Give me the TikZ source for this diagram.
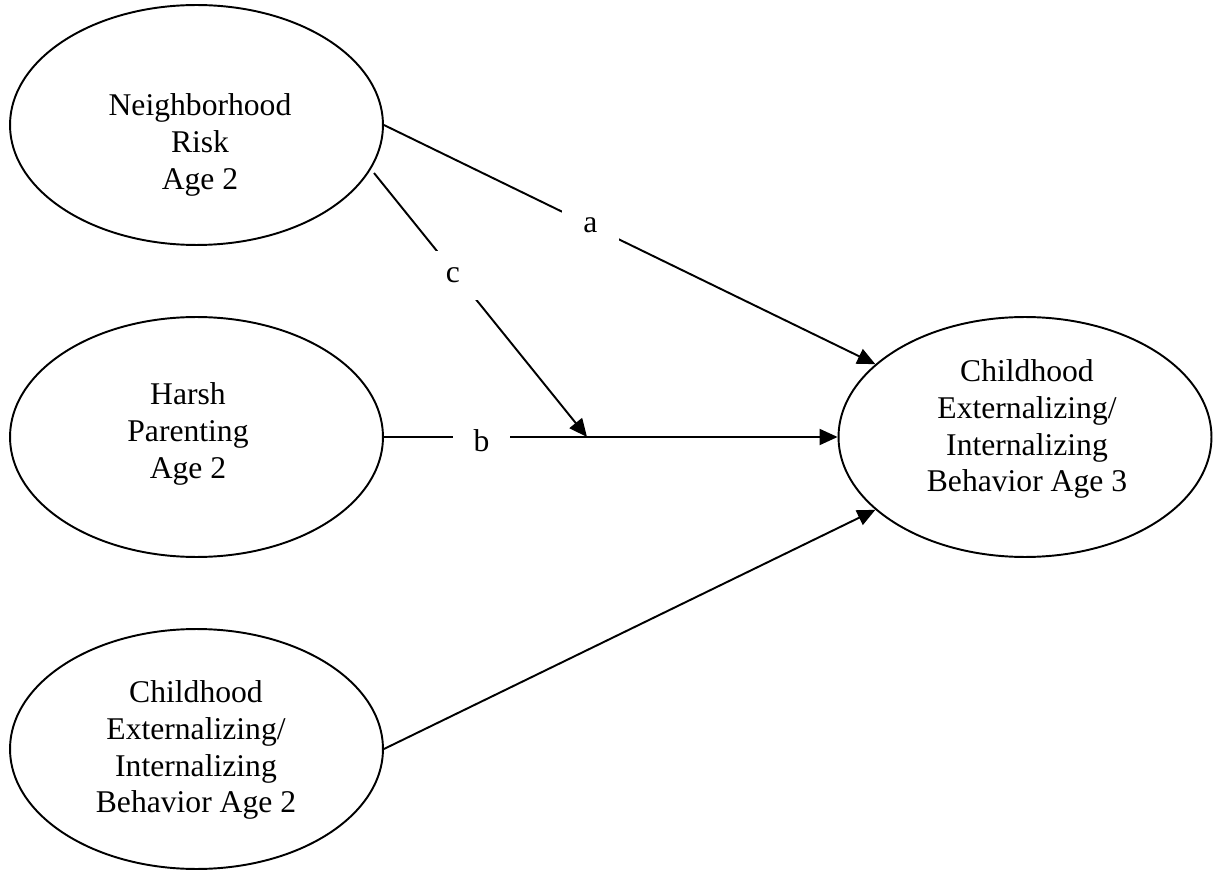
\documentclass[tikz,border=0pt]{standalone}
\usepackage{fontspec}
\setmainfont{Liberation Serif}
\usetikzlibrary{shapes.geometric,arrows.meta}

\begin{document}
\begin{tikzpicture}[x=0.02cm,y=-0.02cm,line width=1.1pt,
  latent/.style={draw,ellipse,minimum width=7.46cm,minimum height=4.8cm,inner sep=0pt},
  txt/.style={align=center,font=\fontsize{18}{21}\selectfont},
  effect/.style={-{Triangle[length=0.36cm,width=0.32cm]}},
  gap/.style={fill=white,minimum width=1.15cm,minimum height=0.98cm,inner sep=0pt,font=\fontsize{18}{21}\selectfont}]
\useasboundingbox (0,0) rectangle (1217,871);
\node[latent] (risk) at (196.5,125) {};
\node[latent] (harsh) at (196.5,437) {};
\node[latent] (ext2) at (196.5,749) {};
\node[latent] (ext3) at (1025,437) {};
\node[txt] (risktxt) at (200,145) {Neighborhood\\Risk\\Age 2};
\node[txt] (harshtxt) at (188,434) {Harsh\\Parenting\\Age 2};
\node[txt] (ext2txt) at (196,750) {Childhood\\Externalizing/\\Internalizing\\Behavior Age 2};
\node[txt] (ext3txt) at (1027,429) {Childhood\\Externalizing/\\Internalizing\\Behavior Age 3};
\coordinate (cfrom) at (374,173);
\coordinate (cto) at (587,437);
\draw[effect] (risk.east) -- node[gap,pos=0.42] {a} (ext3);
\draw[effect] (harsh.east) -- node[gap,pos=0.215,yshift=-0.08cm] {b} (ext3.west);
\draw[effect] (cfrom) -- node[gap,pos=0.37,yshift=-0.1cm] {c} (cto);
\draw[effect] (ext2.east) -- (ext3);
\end{tikzpicture}
\end{document}
